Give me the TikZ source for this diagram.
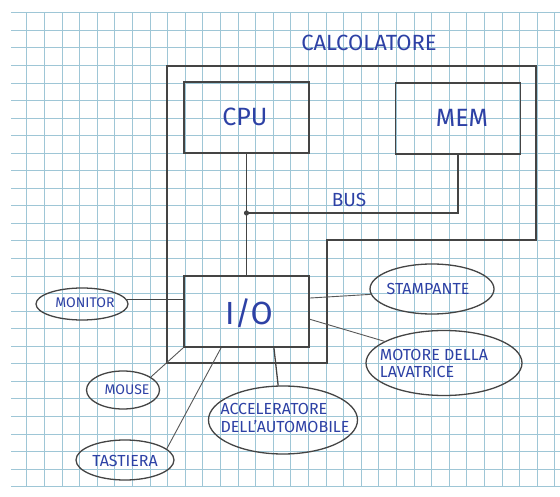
\documentclass[tikz,border=0pt]{standalone}
\usepackage{fontspec}
\setmainfont{Fira Sans}
\usetikzlibrary{shapes.geometric,calc}
\definecolor{gridc}{RGB}{158,198,214}
\definecolor{pencil}{RGB}{68,68,68}
\definecolor{ink}{RGB}{45,65,165}
\begin{document}
\begin{tikzpicture}[x=1pt,y=-1pt,
  box/.style={draw=pencil,line width=1.8pt,minimum width=125pt,minimum height=71pt,inner sep=0pt},
  dev/.style={draw=pencil,ellipse,line width=1.3pt,inner sep=0pt},
  wire/.style={draw=pencil,line width=1.3pt},
  link/.style={draw=pencil!90,line width=0.9pt},
  big/.style={text=ink,font=\fontsize{25}{27}\selectfont},
  lbl/.style={text=ink,font=\fontsize{19}{21}\selectfont},
  devtext/.style={text=ink,align=center,font=\fontsize{16}{17}\selectfont},
  smalltext/.style={text=ink,align=center,font=\fontsize{14}{16}\selectfont}]
\useasboundingbox (0,0) rectangle (560,497);
\fill[white] (0,0) rectangle (560,497);
\foreach \k in {0,...,30} \draw[gridc,line width=0.7pt] ({26.7+17.6*\k},12.7) -- ({26.7+17.6*\k},487);
\foreach \k in {0,...,27} \draw[gridc,line width=0.7pt] (11,{12.7+17.55*\k}) -- (560,{12.7+17.55*\k});
% calcolatore outline
\draw[pencil,line width=1.8pt] (167,66) -- (536,66) -- (536,240) -- (327,240) -- (327,363) -- (167,363) -- cycle;
\node[lbl,font=\fontsize{22}{24}\selectfont] (calc) at (369,43) {CALCOLATORE};
% boxes
\node[box] (cpu) at (246.5,117.5) {};
\node[big] (tcpu) at (245,117) {CPU};
\node[box] (mem) at (458,118.5) {};
\node[big] (tmem) at (462,118) {MEM};
\node[box] (io) at (246.5,311.5) {};
\node[big,font=\fontsize{32}{34}\selectfont] (tio) at (249,313) {I/O};
% bus
\coordinate (j) at (246.5,213);
\draw[wire] (cpu.south) -- (j) -- (io.north);
\draw[wire] (mem.south) |- (j);
\fill[pencil] (j) circle (2.6pt);
\node[lbl] (bus) at (349,200) {BUS};
% devices
\node[dev,minimum width=92pt,minimum height=32pt] (monitor) at (82,304) {};
\node[smalltext] (tmonitor) at (85,303) {MONITOR};
\node[dev,minimum width=124pt,minimum height=50pt] (stampante) at (432,289) {};
\node[devtext] (tstampante) at (428,289) {STAMPANTE};
\node[dev,minimum width=156pt,minimum height=65pt] (motore) at (444,363) {};
\node[devtext,align=left] (tmotore) at (434,363) {MOTORE DELLA\\LAVATRICE};
\node[dev,minimum width=73pt,minimum height=38pt] (mouse) at (123,390) {};
\node[smalltext] (tmouse) at (127,390) {MOUSE};
\node[dev,minimum width=149pt,minimum height=68pt] (accel) at (283,420) {};
\node[devtext,align=left,font=\fontsize{16}{18}\selectfont] (taccel) at (285,418) {ACCELERATORE\\DELL'AUTOMOBILE};
\node[dev,minimum width=98pt,minimum height=40pt] (tastiera) at (125,460) {};
\node[devtext] (ttastiera) at (125,461) {TASTIERA};
% connectors
\draw[wire] (monitor.6) -- (io.west |- monitor.6);
\draw[link] (io.12) -- (stampante.185);
\draw[link] (io.-7) -- (motore.160);
\draw[link] (io.south west) -- (mouse.25);
\draw[link] (io.235) -- (tastiera.15);
\draw[wire] (io.-53) -- (accel.98);
\end{tikzpicture}
\end{document}
